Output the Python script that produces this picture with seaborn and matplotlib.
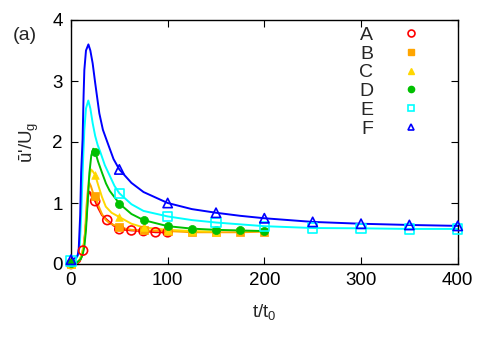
import numpy as np
import pandas as pd
import matplotlib
matplotlib.use("Agg")
import matplotlib.pyplot as plt
from matplotlib.lines import Line2D
import seaborn as sns

# ---- data ----
series = ["A", "B", "C", "D", "E", "F"]
colors = ["#ff0000", "#ffa500", "#ffd700", "#00c000", "#00ffff", "#0000ff"]

# smooth curves
curve_A_t = [0, 6, 9, 11, 12.5, 13.8, 15.5, 17, 18.3, 19.5, 21, 23, 25, 28, 32, 37.5, 44, 50, 56, 62.5, 75, 87.5, 100]
curve_A_y = [0.0, 0.0, 0.04, 0.12, 0.22, 0.39, 0.67, 1.0, 1.19, 1.18, 1.12, 1.07, 1.03, 0.92, 0.8, 0.72, 0.63, 0.58, 0.56, 0.55, 0.54, 0.52, 0.52]
curve_B_t = [0, 6, 9, 11, 12.5, 14.3, 16, 17.5, 19, 20.5, 22.5, 25, 28, 32, 36, 40, 50, 62.5, 75, 100, 125, 150, 175, 200]
curve_B_y = [0.0, 0.02, 0.07, 0.15, 0.25, 0.45, 0.94, 1.22, 1.33, 1.28, 1.18, 1.11, 0.97, 0.82, 0.72, 0.67, 0.6, 0.56, 0.55, 0.54, 0.52, 0.52, 0.52, 0.53]
curve_C_t = [0, 6, 9, 11, 13, 14.8, 16, 17.2, 18.5, 20.7, 22.5, 25, 28, 32, 36, 42, 50, 62.5, 75, 100, 125, 150]
curve_C_y = [0.0, 0.02, 0.07, 0.15, 0.3, 0.5, 0.8, 1.1, 1.38, 1.55, 1.52, 1.46, 1.3, 1.1, 0.94, 0.84, 0.77, 0.66, 0.6, 0.56, 0.54, 0.53]
curve_D_t = [0, 6.6, 10, 12, 13.8, 15.5, 17, 19, 21, 23, 25, 28, 32, 36.2, 40, 50, 62.5, 75, 100, 125, 150, 175, 200]
curve_D_y = [0.02, 0.03, 0.08, 0.15, 0.28, 0.56, 0.95, 1.49, 1.78, 1.89, 1.84, 1.68, 1.5, 1.32, 1.2, 0.99, 0.82, 0.72, 0.62, 0.58, 0.56, 0.55, 0.54]
curve_E_t = [0, 5, 7.5, 9, 10, 11, 12.5, 13.8, 15.5, 17.9, 20, 22.4, 25, 27.6, 30, 35, 40, 45, 50, 62.5, 75, 100, 125, 150, 175, 200, 250, 300, 350, 400]
curve_E_y = [0.05, 0.08, 0.15, 0.3, 0.6, 1.0, 1.7, 2.2, 2.55, 2.68, 2.55, 2.31, 2.1, 1.95, 1.85, 1.62, 1.45, 1.28, 1.16, 0.98, 0.87, 0.78, 0.72, 0.68, 0.65, 0.62, 0.59, 0.585, 0.575, 0.575]
curve_F_t = [0, 5, 7, 8, 9.5, 10.5, 12, 13, 13.8, 15.5, 18, 20, 22.4, 25, 29.3, 33, 38, 44, 50, 62.5, 75, 100, 125, 150, 175, 200, 250, 300, 350, 400]
curve_F_y = [0.07, 0.1, 0.15, 0.25, 0.8, 1.5, 2.05, 2.75, 3.18, 3.5, 3.6, 3.5, 3.29, 2.97, 2.47, 2.2, 1.98, 1.72, 1.55, 1.33, 1.18, 1.0, 0.9, 0.84, 0.79, 0.75, 0.69, 0.66, 0.64, 0.625]

# symbols
pts_A_t = [0, 12.5, 25, 37.5, 50, 62.5, 75, 87.5, 100]
pts_A_y = [0.0, 0.22, 1.03, 0.72, 0.57, 0.55, 0.54, 0.52, 0.52]
pts_B_t = [0, 25, 50, 75, 100, 125, 150, 175, 200]
pts_B_y = [0.0, 1.11, 0.6, 0.55, 0.54, 0.52, 0.52, 0.52, 0.53]
pts_C_t = [0, 25, 50, 75, 100, 125, 150]
pts_C_y = [0.0, 1.46, 0.77, 0.6, 0.56, 0.54, 0.53]
pts_D_t = [0, 25, 50, 75, 100, 125, 150, 175, 200]
pts_D_y = [0.02, 1.84, 0.99, 0.72, 0.62, 0.58, 0.56, 0.55, 0.54]
pts_E_t = [0, 50, 100, 150, 200, 250, 300, 350, 400]
pts_E_y = [0.05, 1.16, 0.78, 0.68, 0.62, 0.59, 0.585, 0.575, 0.575]
pts_F_t = [0, 50, 100, 150, 200, 250, 300, 350, 400]
pts_F_y = [0.07, 1.55, 1.0, 0.84, 0.75, 0.69, 0.66, 0.64, 0.625]

x_ticks = [0, 100, 200, 300, 400]
y_ticks = [0, 1, 2, 3, 4]

curves = {"A": (curve_A_t, curve_A_y), "B": (curve_B_t, curve_B_y), "C": (curve_C_t, curve_C_y),
          "D": (curve_D_t, curve_D_y), "E": (curve_E_t, curve_E_y), "F": (curve_F_t, curve_F_y)}
points = {"A": (pts_A_t, pts_A_y), "B": (pts_B_t, pts_B_y), "C": (pts_C_t, pts_C_y),
          "D": (pts_D_t, pts_D_y), "E": (pts_E_t, pts_E_y), "F": (pts_F_t, pts_F_y)}

markers = {"A": "o", "B": "s", "C": "^", "D": "o", "E": "s", "F": "^"}
filled = {"A": False, "B": True, "C": True, "D": True, "E": False, "F": False}
msize = {"A": 42, "B": 30, "C": 30, "D": 34, "E": 45, "F": 45}

sns.set_theme(style="ticks")
plt.rcParams["font.family"] = ["Liberation Sans", "DejaVu Sans"]
plt.rcParams["mathtext.fontset"] = "custom"
plt.rcParams["mathtext.rm"] = "Liberation Sans"
plt.rcParams["mathtext.it"] = "Liberation Sans"

FS = 13.5
fig = plt.figure(figsize=(4.93, 3.45), dpi=100)
ax = fig.add_axes([71 / 493, 1 - 264 / 345, (457.7 - 71) / 493, (264 - 20) / 345])

for s, c in zip(series, colors):
    t, y = curves[s]
    df = pd.DataFrame({"t": t, "y": y})
    sns.lineplot(data=df, x="t", y="y", ax=ax, color=c, linewidth=1.4, sort=False,
                 estimator=None, clip_on=False)
for s, c in zip(series, colors):
    t, y = points[s]
    df = pd.DataFrame({"t": t, "y": y})
    if filled[s]:
        sns.scatterplot(data=df, x="t", y="y", ax=ax, marker=markers[s], s=msize[s],
                        color=c, edgecolor=c, linewidth=0.5, clip_on=False, zorder=3)
    else:
        sns.scatterplot(data=df, x="t", y="y", ax=ax, marker=markers[s], s=msize[s],
                        facecolor="none", edgecolor=c, linewidth=1.2, clip_on=False, zorder=3)

ax.set_xlim(0, 400)
ax.set_ylim(0, 4)
ax.set_xticks(x_ticks)
ax.set_yticks(y_ticks)
ax.tick_params(direction="in", length=5, width=0.8, labelsize=FS, pad=6,
               top=True, right=True, colors="black")
for sp in ax.spines.values():
    sp.set_visible(True)
    sp.set_linewidth(1.0)
    sp.set_color("black")

ax.set_xlabel("t/t$_0$", fontsize=FS, labelpad=9)
ax.set_ylabel("ū'/U$_\\mathregular{g}$", fontsize=FS, labelpad=8)
fig.text(12.5 / 493, 1 - 35 / 345, "(a)", fontsize=FS + 0.5, va="center", ha="left")

handles = []
for s, c in zip(series, colors):
    if filled[s]:
        h = Line2D([], [], linestyle="", marker=markers[s], color=c, markersize=4.5,
                   markeredgecolor=c)
    else:
        h = Line2D([], [], linestyle="", marker=markers[s], color=c, markersize=5,
                   markerfacecolor="none", markeredgecolor=c, markeredgewidth=1.2)
    handles.append(h)
leg = ax.legend(handles, series, loc="upper right", bbox_to_anchor=(0.94, 1.03),
                frameon=False, markerfirst=False, fontsize=14, handlelength=1.0,
                handletextpad=1.45, labelspacing=0.06, borderaxespad=0.3)

fig.savefig("out.png", dpi=100)
